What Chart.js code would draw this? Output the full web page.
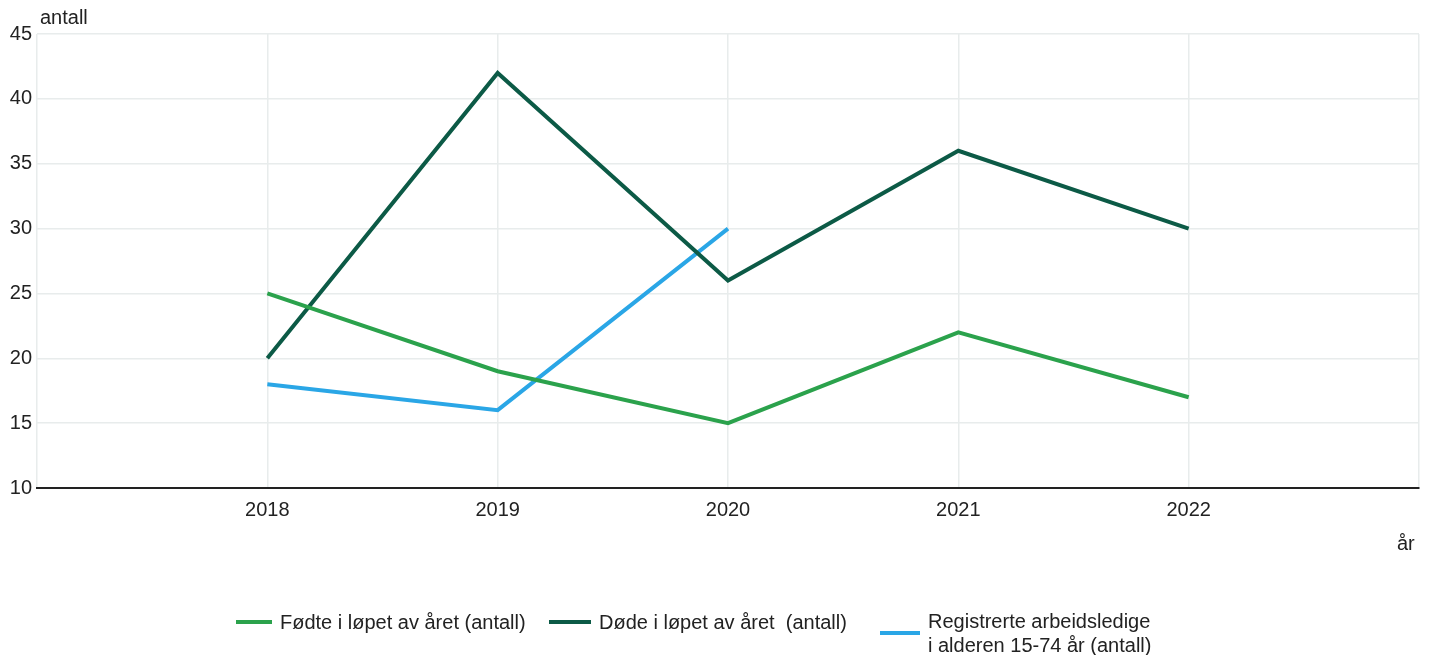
<!DOCTYPE html>
<html>
<head>
<meta charset="utf-8">
<script src="https://cdn.jsdelivr.net/npm/chart.js@4"></script>
<style>
  html, body { margin: 0; padding: 0; background: #fff; }
  #wrap { position: relative; width: 1432px; height: 655px; font-family: "Liberation Sans", Arial, sans-serif; color: #222; }
  #c { position: absolute; left: 0; top: 0; }
  .lbl { position: absolute; font-size: 20px; line-height: 24px; }
  .leg { position: absolute; display: flex; align-items: center; font-size: 20px; line-height: 24px; white-space: pre; }
  .leg i { display: inline-block; height: 4px; margin-right: 8px; }
</style>
</head>
<body>
<div id="wrap">
  <canvas id="c" width="1432" height="655"></canvas>
  <div class="lbl" style="left:40px; top:5px;">antall</div>
  <div class="lbl" style="left:1397px; top:531px;">år</div>
  <div id="legend"></div>
</div>
<script>
// data lest av bildet
const aar = [2018, 2019, 2020, 2021, 2022];
const fodte = [25, 19, 15, 22, 17];
const dode = [20, 42, 26, 36, 30];
const ledige = [18, 16, 30, null, null];

const serieNavn = ["Fødte i løpet av året (antall)", "Døde i løpet av året  (antall)", "Registrerte arbeidsledige\ni alderen 15-74 år (antall)"];
const farger = ["#2ba24c", "#0c5a46", "#2aa6e6"];

function punkter(verdier) {
  return aar.map((a, i) => ({ x: a, y: verdier[i] }));
}

const ctx = document.getElementById("c");
new Chart(ctx, {
  type: "line",
  data: {
    datasets: [fodte, dode, ledige].map((v, i) => ({
      label: serieNavn[i],
      data: punkter(v),
      borderColor: farger[i],
      backgroundColor: farger[i],
      borderWidth: 4,
      pointRadius: 0,
      tension: 0,
      spanGaps: false
    }))
  },
  options: {
    responsive: false,
    animation: false,
    layout: { padding: { top: 34, right: 13, left: 0, bottom: 0 } },
    plugins: { legend: { display: false }, tooltip: { enabled: false } },
    scales: {
      x: {
        type: "linear",
        min: 2017,
        max: 2023,
        afterFit: s => { s.height = 167; },
        ticks: {
          stepSize: 1,
          padding: 10,
          color: "#222",
          font: { family: "Liberation Sans", size: 20 },
          callback: v => (v >= aar[0] && v <= aar[aar.length - 1]) ? String(v) : ""
        },
        grid: { color: "#e8ecec", lineWidth: 1.5, drawTicks: false },
        border: { color: "#222", width: 2 }
      },
      y: {
        min: 10,
        max: 45,
        afterFit: s => { s.width = 37; },
        ticks: {
          stepSize: 5,
          padding: 5,
          color: "#222",
          font: { family: "Liberation Sans", size: 20 }
        },
        grid: { color: "#e8ecec", lineWidth: 1.5, drawTicks: false },
        border: { display: false }
      }
    }
  }
});

// legende under grafen
const legPos = [{ x: 236, y: 610, w: 36 }, { x: 549, y: 610, w: 42 }, { x: 880, y: 609, w: 40 }];
const legend = document.getElementById("legend");
serieNavn.forEach((navn, i) => {
  const d = document.createElement("div");
  d.className = "leg";
  d.style.left = legPos[i].x + "px";
  d.style.top = legPos[i].y + "px";
  const strek = document.createElement("i");
  strek.style.background = farger[i];
  strek.style.width = legPos[i].w + "px";
  const tekst = document.createElement("span");
  tekst.textContent = navn;
  d.appendChild(strek);
  d.appendChild(tekst);
  legend.appendChild(d);
});
</script>
</body>
</html>
